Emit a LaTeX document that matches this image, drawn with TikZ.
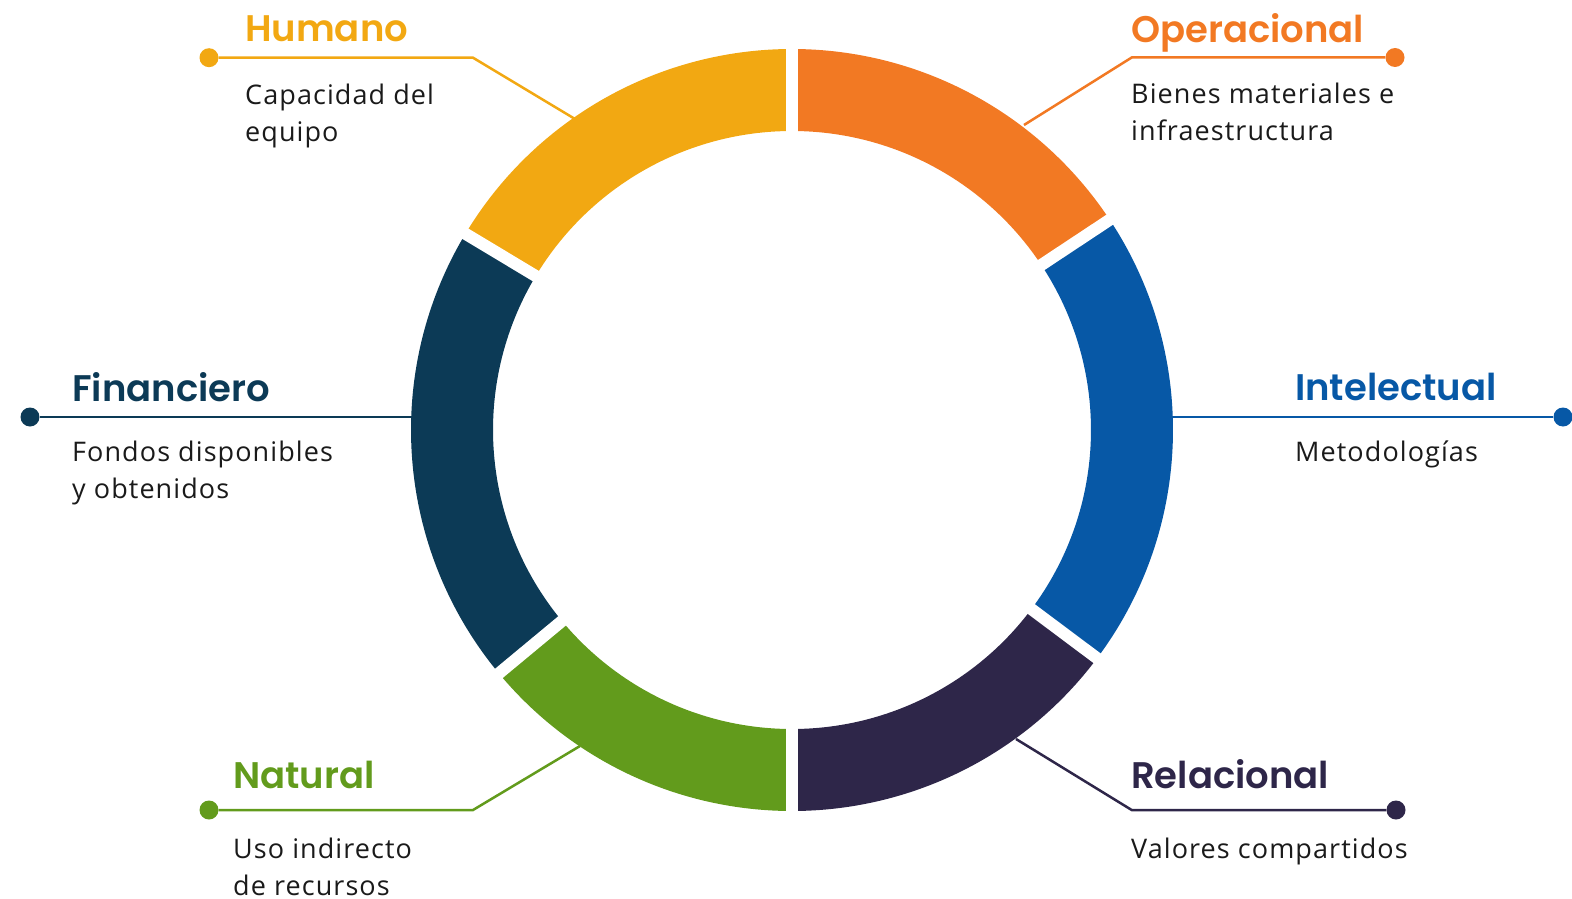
\documentclass[tikz,border=0pt]{standalone}
\usepackage{fontspec}
\setmainfont{Open Sans}[LetterSpace=4]
\newfontfamily\titlefont{Poppins}[BoldFont={* SemiBold}]
\definecolor{chum}{HTML}{F2A812}
\definecolor{cope}{HTML}{F27923}
\definecolor{cint}{HTML}{0758A6}
\definecolor{crel}{HTML}{2E2649}
\definecolor{cnat}{HTML}{629B1C}
\definecolor{cfin}{HTML}{0C3A56}
\definecolor{ctext}{HTML}{1A1A1A}
\begin{document}
\begin{tikzpicture}[x=1pt,y=1pt,
  title/.style={anchor=base west, inner sep=0pt, font=\titlefont\bfseries\fontsize{37}{40}\selectfont},
  body/.style={anchor=base west, inner sep=0pt, text=ctext, font=\fontsize{27}{30}\selectfont},
  dot/.style={circle, inner sep=0pt, minimum size=19pt},
  conn/.style={line width=2.5pt}]
\useasboundingbox (0,0) rectangle (1572,-899);
\coordinate (C) at (792,-430);
\def\Ro{381}
\def\Ri{299}

% connectors
\node[dot, fill=chum] (dhum) at (209,-57.7) {};
\coordinate (bhum) at (473,-57.7);
\coordinate (ehum) at (575,-119);
\draw[conn, chum] (dhum) -- (bhum) -- (ehum);

\node[dot, fill=cope] (dope) at (1395,-57.5) {};
\coordinate (bope) at (1131.7,-57.5);
\coordinate (eope) at (1024,-125);
\draw[conn, cope] (dope) -- (bope) -- (eope);

\node[dot, fill=cfin] (dfin) at (30,-417) {};
\coordinate (efin) at (430,-417);
\draw[conn, cfin] (dfin) -- (efin);

\node[dot, fill=cint] (dint) at (1563,-417) {};
\coordinate (eint) at (1150,-417);
\draw[conn, cint] (dint) -- (eint);

\node[dot, fill=cnat] (dnat) at (209,-810) {};
\coordinate (bnat) at (473,-810);
\coordinate (enat) at (580,-746);
\draw[conn, cnat] (dnat) -- (bnat) -- (enat);

\node[dot, fill=crel] (drel) at (1396,-810) {};
\coordinate (brel) at (1131.7,-810);
\coordinate (erel) at (1016,-739);
\draw[conn, crel] (drel) -- (brel) -- (erel);

% ring
\foreach \a/\b/\c in {90/149/chum, 149/219.7/cfin, 219.7/270/cnat, 270/323.2/crel, 323.2/393.5/cint, 393.5/450/cope}{
  \fill[\c] ([shift={(\a:\Ro)}]C) arc[start angle=\a, end angle=\b, radius=\Ro]
    -- ([shift={(\b:\Ri)}]C) arc[start angle=\b, end angle=\a, radius=\Ri] -- cycle;
}
\foreach \a in {90, 149, 219.7, 270, 323.2, 393.5}{
  \draw[white, line width=12pt] ([shift={(\a:290)}]C) -- ([shift={(\a:392)}]C);
}

% texts
\node[title, text=chum] (thum) at (245,-41.7) {Humano};
\node[body] (hum1) at (245,-104) {Capacidad del};
\node[body] (hum2) at (245,-141) {equipo};

\node[title, text=cope] (tope) at (1131,-42.7) {Operacional};
\node[body] (ope1) at (1131,-103) {Bienes materiales e};
\node[body] (ope2) at (1131,-140) {infraestructura};

\node[title, text=cfin] (tfin) at (72,-401.7) {Financiero};
\node[body] (fin1) at (72,-461.7) {Fondos disponibles};
\node[body] (fin2) at (72,-498.5) {y obtenidos};

\node[title, text=cint] (tint) at (1295,-400.7) {Intelectual};
\node[body] (int1) at (1295,-461.7) {Metodologías};

\node[title, text=cnat] (tnat) at (233,-788.3) {Natural};
\node[body] (nat1) at (233,-858.3) {Uso indirecto};
\node[body] (nat2) at (233,-895) {de recursos};

\node[title, text=crel] (trel) at (1131,-788.3) {Relacional};
\node[body] (rel1) at (1131,-858.3) {Valores compartidos};
\end{tikzpicture}
\end{document}
